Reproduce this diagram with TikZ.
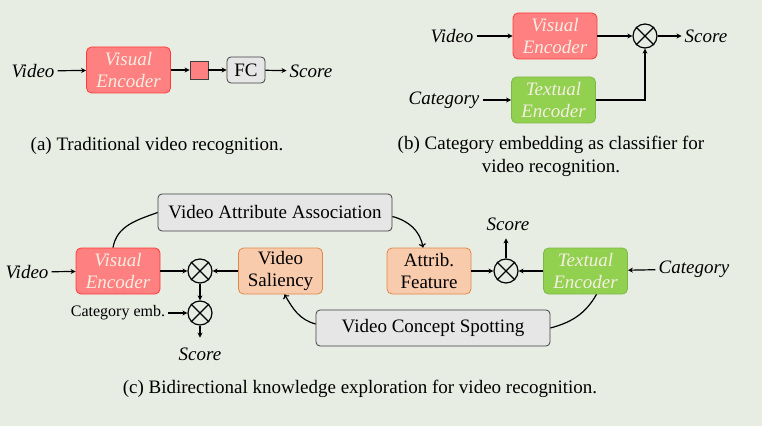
\documentclass[tikz,border=0pt]{standalone}
\usepackage{fontspec}
\setmainfont{Liberation Serif}
\usetikzlibrary{arrows.meta}
\definecolor{bgcol}{HTML}{E8EDE3}
\definecolor{visfill}{HTML}{FF8080}
\definecolor{visline}{HTML}{FF3B3B}
\definecolor{txtfill}{HTML}{92D050}
\definecolor{txtline}{HTML}{7DB847}
\definecolor{featfill}{HTML}{F8CBAD}
\definecolor{featline}{HTML}{E0874A}
\definecolor{boxfill}{HTML}{E6E6E6}
\definecolor{boxline}{HTML}{404040}
\definecolor{enctext}{HTML}{F4EEE2}
\tikzset{
  enc/.style={rounded corners=5pt, minimum width=84pt, minimum height=46pt, align=center,
    text=enctext, font=\itshape\fontsize{19}{22}\selectfont, line width=0.8pt, inner sep=1pt},
  visenc/.style={enc, fill=visfill, draw=visline},
  txtenc/.style={enc, fill=txtfill, draw=txtline},
  feat/.style={rounded corners=5pt, minimum width=84pt, minimum height=46pt, align=center,
    fill=featfill, draw=featline, font=\fontsize{19}{22}\selectfont, line width=0.8pt, inner sep=1pt},
  graybox/.style={rounded corners=4pt, fill=boxfill, draw=boxline, line width=0.8pt,
    font=\fontsize{19}{22}\selectfont},
  mult/.style={circle, draw, line width=1.2pt, minimum size=24pt, inner sep=0pt},
  lbl/.style={font=\itshape\fontsize{19}{22}\selectfont, inner sep=3pt},
  capt/.style={font=\fontsize{19}{23}\selectfont, align=center},
  arr/.style={-{Stealth[length=5pt,width=5pt]}, line width=1.2pt},
  link/.style={-{To[length=4pt,width=7pt]}, line width=1.2pt}
}
\begin{document}
\begin{tikzpicture}[x=1pt,y=1pt]
  \path[use as bounding box, fill=bgcol] (0,0) rectangle (762,426);

  % (a)
  \node[lbl] (va_in) at (33,355) {Video};
  \node[visenc] (va_enc) at (128.5,356) {Visual\\Encoder};
  \node[draw=boxline, fill=visfill, line width=0.8pt, minimum size=18pt, inner sep=0pt] (va_pool) at (199,356) {};
  \node[graybox, minimum width=38pt, minimum height=26pt, inner sep=0pt] (va_fc) at (246,356) {FC};
  \node[lbl] (va_out) at (311,355) {Score};
  \draw[arr] (va_in) -- (va_enc);
  \draw[arr] (va_enc) -- (va_pool);
  \draw[arr] (va_pool) -- (va_fc);
  \draw[arr] (va_fc) -- (va_out);
  \node[capt] (cap_a) at (157,280) {(a) Traditional video recognition.};

  % (b)
  \node[lbl] (vb_in) at (452,390) {Video};
  \node[visenc] (vb_enc) at (555,390) {Visual\\Encoder};
  \node[mult] (vb_mul) at (645,390) {};
  \node[lbl] (vb_out) at (706,390) {Score};
  \node[lbl] (cb_in) at (444,326) {Category};
  \node[txtenc] (tb_enc) at (553.5,326) {Textual\\Encoder};
  \draw[arr] (vb_in) -- (vb_enc);
  \draw[arr] (vb_enc) -- (vb_mul);
  \draw[arr] (vb_mul) -- (vb_out);
  \draw[arr] (cb_in) -- (tb_enc);
  \draw[arr] (tb_enc.east) -| (vb_mul.south);
  \node[capt] (cap_b) at (551,269.5) {(b) Category embedding as classifier for\\video recognition.};

  % (c)
  \node[lbl] (vc_in) at (27,154) {Video};
  \node[visenc] (vc_enc) at (118,155) {Visual\\Encoder};
  \node[mult] (m1) at (200,155) {};
  \node[feat] (sal) at (280.5,155) {Video\\Saliency};
  \node[mult] (m2) at (200,113) {};
  \node[font=\fontsize{16}{18}\selectfont, inner sep=3pt] (emb) at (118,113) {Category emb.};
  \node[lbl] (sc1) at (200,72) {Score};
  \node[graybox, minimum width=234pt, minimum height=37pt] (vaa) at (275,213.5) {Video Attribute Association};
  \node[feat] (attr) at (429,155) {Attrib.\\Feature};
  \node[mult] (m3) at (506,155) {};
  \node[lbl] (sc2) at (508,202) {Score};
  \node[txtenc] (tc_enc) at (585.5,155) {Textual\\Encoder};
  \node[lbl] (cc_in) at (694,157) {Category};
  \node[graybox, minimum width=234pt, minimum height=36pt] (vcs) at (433,98) {Video Concept Spotting};
  \node[capt] (cap_c) at (360,37) {(c) Bidirectional knowledge exploration for video recognition.};

  \draw[arr] (vc_in) -- (vc_enc);
  \draw[arr] (vc_enc) -- (m1);
  \draw[arr] (sal) -- (m1);
  \draw[arr] (m1) -- (m2);
  \draw[arr] (emb) -- (m2);
  \draw[arr] (m2.south) -- ++(0,-12);
  \draw[arr] (attr) -- (m3);
  \draw[arr] (tc_enc) -- (m3);
  \draw[arr] (m3.north) -- ++(0,20);
  \draw[arr] (cc_in) -- (tc_enc);

  \draw[line width=1.2pt] ([xshift=-5pt]vc_enc.north) to[out=80,in=200] (vaa.west);
  \draw[link] ([yshift=-4pt]vaa.east) to[out=-15,in=100] ([xshift=-6pt]attr.north);
  \draw[line width=1.2pt] ([xshift=11pt]tc_enc.south) to[out=-120,in=15] (vcs.east);
  \draw[link] ([yshift=4pt]vcs.west) to[out=165,in=-60] ([xshift=4pt]sal.south);

  \foreach \m in {vb_mul, m1, m2, m3}
  \draw[line width=1.2pt] (\m.north east) -- (\m.south west) (\m.north west) -- (\m.south east);
\end{tikzpicture}
\end{document}
